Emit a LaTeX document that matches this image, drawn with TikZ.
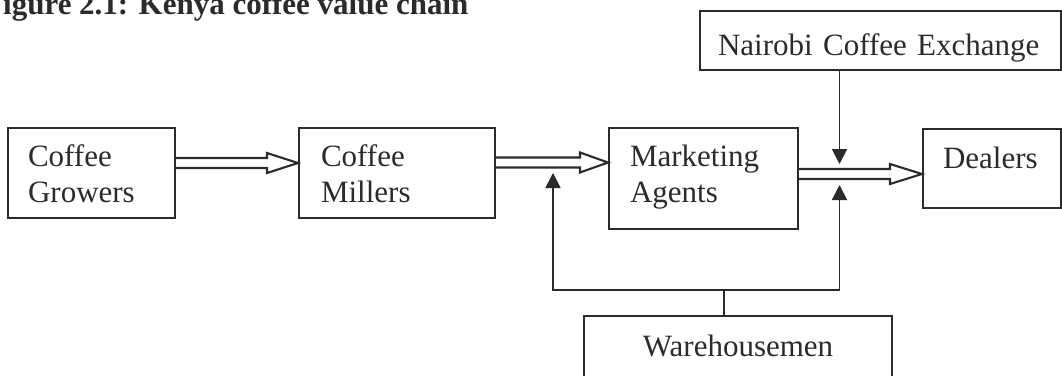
\documentclass[tikz,border=0pt]{standalone}
\usepackage{fontspec}
\setmainfont{Liberation Serif}
\usetikzlibrary{arrows.meta,calc}
\definecolor{ink}{HTML}{2B2B2B}
\begin{document}
\begin{tikzpicture}[x=1pt,y=1pt,
  box/.style={draw=ink, line width=2.1pt, inner ysep=0pt, anchor=north west, text=ink,
    font=\fontsize{31pt}{36pt}\selectfont, align=left},
  dblarr/.style={draw=ink, line width=2.1pt, line join=miter},
  arr/.style={draw=ink, line width=1.8pt, -{Triangle[length=15pt,width=15pt]}},
  conn/.style={draw=ink, line width=1.8pt}]
\useasboundingbox (0,0) rectangle (1062,-375);
\fill[white] (0,0) rectangle (1062,-375);
\clip (0,0) rectangle (1062,-375);
% title (top cut off in the reference)
\node[anchor=base west, text=ink, inner sep=0pt,
  font=\fontsize{31pt}{36pt}\selectfont\bfseries] (title) at (3,-14) {igure 2.1: Kenya coffee value chain};
% boxes
\node[box, inner xsep=20pt, text width=127pt, text height=38pt, text depth=52pt] (g) at (7,-127) {Coffee\\Growers};
\node[box, inner xsep=22pt, text width=152pt, text height=38pt, text depth=52pt] (m) at (298,-127) {Coffee\\Millers};
\node[box, inner xsep=21pt, text width=147pt, text height=38pt, text depth=63pt] (ma) at (608,-127) {Marketing\\Agents};
\node[box, inner xsep=20pt, text width=98pt, text height=39pt, text depth=40pt] (d) at (922,-128) {Dealers};
\node[box, inner xsep=18pt, text width=325pt, text height=44pt, text depth=15pt] (nce) at (699,-10) {Nairobi Coffee Exchange};
\node[box, align=center, inner xsep=10pt, text width=288pt, text height=40pt, text depth=50pt] (w) at (583,-315) {Warehousemen};
% double (hollow) arrows
\draw[dblarr] let \p1=(g.east), \p2=(m.west) in
  (\x1,-158) -- (\x2-31pt,-158) -- (\x2-31pt,-153) -- (\x2,-163) -- (\x2-31pt,-173) -- (\x2-31pt,-168) -- (\x1,-168);
\draw[dblarr] let \p1=(m.east), \p2=(ma.west) in
  (\x1,-157.5) -- (\x2-28pt,-157.5) -- (\x2-28pt,-152.5) -- (\x2,-162.5) -- (\x2-28pt,-172.5) -- (\x2-28pt,-167.5) -- (\x1,-167.5);
\draw[dblarr] let \p1=(ma.east), \p2=(d.west) in
  (\x1,-169) -- (\x2-32pt,-169) -- (\x2-32pt,-164) -- (\x2,-174) -- (\x2-32pt,-184) -- (\x2-32pt,-179) -- (\x1,-179);
% single arrows
\coordinate (j) at (724,-290);
\coordinate (lt) at (553,-173);
\coordinate (rt) at (839.5,-185);
\coordinate (nt) at (839.5,-164);
\draw[conn] (w.north -| j) -- (j);
\draw[arr] (j) -| (lt);
\draw[arr] (j) -| (rt);
\draw[arr] (nce.south -| nt) -- (nt);
\end{tikzpicture}
\end{document}
